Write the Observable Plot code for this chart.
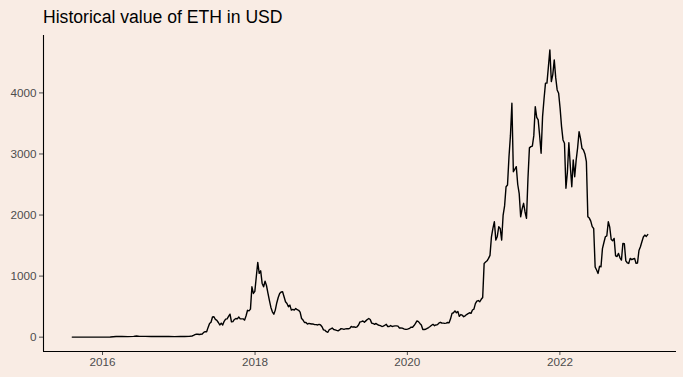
<!DOCTYPE html>
<html>
<head>
<meta charset="utf-8">
<script src="https://cdn.jsdelivr.net/npm/d3@7"></script>
<script src="https://cdn.jsdelivr.net/npm/@observablehq/plot@0.6"></script>
<style>
  html, body { margin: 0; padding: 0; background: #F9ECE4; }
  body { width: 683px; height: 377px; overflow: hidden; font-family: "Liberation Sans", Arial, sans-serif; }
  #title { box-sizing: border-box; height: 30px; padding-top: 9px; padding-left: 43px; font-size: 17.6px; line-height: 17.6px; color: #000; }
</style>
</head>
<body>
<div id="title">Historical value of ETH in USD</div>
<div id="chart"></div>
<script>
const titleText = "Historical value of ETH in USD";
const xTickYears = [2016, 2018, 2020, 2022];
const yTicks = [0, 1000, 2000, 3000, 4000];

const dates = [
"2015-08-09","2015-08-23","2015-09-20","2015-10-18","2015-11-15","2015-12-13",
"2016-01-10","2016-02-07","2016-03-06","2016-04-03","2016-05-01","2016-05-29","2016-06-12","2016-06-26","2016-07-24","2016-08-21","2016-09-18","2016-10-16","2016-11-13","2016-12-11",
"2017-01-08","2017-01-29","2017-02-19","2017-03-05","2017-03-12","2017-03-19","2017-03-26","2017-04-02","2017-04-09","2017-04-16","2017-04-23","2017-04-30",
"2017-05-07","2017-05-14","2017-05-21","2017-05-28","2017-06-04","2017-06-11","2017-06-18","2017-06-25","2017-07-02","2017-07-09","2017-07-16","2017-07-23","2017-07-30",
"2017-08-06","2017-08-13","2017-08-20","2017-08-27","2017-09-03","2017-09-10","2017-09-17","2017-09-24","2017-10-01","2017-10-08","2017-10-15","2017-10-22","2017-10-29",
"2017-11-05","2017-11-12","2017-11-19","2017-11-26","2017-12-03","2017-12-10","2017-12-17","2017-12-24","2017-12-31",
"2018-01-07","2018-01-14","2018-01-21","2018-01-28","2018-02-04","2018-02-11","2018-02-18","2018-02-25","2018-03-04","2018-03-11","2018-03-18","2018-03-25",
"2018-04-01","2018-04-08","2018-04-15","2018-04-22","2018-04-29","2018-05-06","2018-05-13","2018-05-20","2018-05-27","2018-06-03","2018-06-10","2018-06-17","2018-06-24",
"2018-07-01","2018-07-08","2018-07-15","2018-07-22","2018-07-29","2018-08-05","2018-08-12","2018-08-19","2018-08-26","2018-09-02","2018-09-09","2018-09-16","2018-09-23","2018-09-30",
"2018-10-07","2018-10-14","2018-10-21","2018-10-28","2018-11-04","2018-11-11","2018-11-18","2018-11-25","2018-12-02","2018-12-09","2018-12-16","2018-12-23","2018-12-30",
"2019-01-06","2019-01-13","2019-01-20","2019-01-27","2019-02-03","2019-02-10","2019-02-17","2019-02-24","2019-03-03","2019-03-10","2019-03-17","2019-03-24","2019-03-31",
"2019-04-07","2019-04-14","2019-04-21","2019-04-28","2019-05-05","2019-05-12","2019-05-19","2019-05-26","2019-06-02","2019-06-09","2019-06-16","2019-06-23","2019-06-30",
"2019-07-07","2019-07-14","2019-07-21","2019-07-28","2019-08-04","2019-08-11","2019-08-18","2019-08-25","2019-09-01","2019-09-08","2019-09-15","2019-09-22","2019-09-29",
"2019-10-06","2019-10-13","2019-10-20","2019-10-27","2019-11-03","2019-11-10","2019-11-17","2019-11-24","2019-12-01","2019-12-08","2019-12-15","2019-12-22","2019-12-29",
"2020-01-05","2020-01-12","2020-01-19","2020-01-26","2020-02-02","2020-02-09","2020-02-16","2020-02-23","2020-03-01","2020-03-08","2020-03-15","2020-03-22","2020-03-29",
"2020-04-05","2020-04-12","2020-04-19","2020-04-26","2020-05-03","2020-05-10","2020-05-17","2020-05-24","2020-05-31","2020-06-07","2020-06-14","2020-06-21","2020-06-28",
"2020-07-05","2020-07-12","2020-07-19","2020-07-26","2020-08-02","2020-08-09","2020-08-16","2020-08-23","2020-08-30","2020-09-06","2020-09-13","2020-09-20","2020-09-27",
"2020-10-04","2020-10-11","2020-10-18","2020-10-25","2020-11-01","2020-11-08","2020-11-15","2020-11-22","2020-11-29","2020-12-06","2020-12-13","2020-12-20","2020-12-27",
"2021-01-03","2021-01-10","2021-01-17","2021-01-24","2021-01-31","2021-02-07","2021-02-14","2021-02-21","2021-02-28","2021-03-07","2021-03-14","2021-03-21","2021-03-28",
"2021-04-04","2021-04-11","2021-04-18","2021-04-25","2021-05-02","2021-05-09","2021-05-16","2021-05-23","2021-05-30","2021-06-06","2021-06-13","2021-06-20","2021-06-27",
"2021-07-04","2021-07-11","2021-07-18","2021-07-25","2021-08-01","2021-08-08","2021-08-15","2021-08-22","2021-08-29","2021-09-05","2021-09-12","2021-09-19","2021-09-26",
"2021-10-03","2021-10-10","2021-10-17","2021-10-24","2021-10-31","2021-11-07","2021-11-14","2021-11-21","2021-11-28","2021-12-05","2021-12-12","2021-12-19","2021-12-26",
"2022-01-02","2022-01-09","2022-01-16","2022-01-23","2022-01-30","2022-02-06","2022-02-13","2022-02-20","2022-02-27","2022-03-06","2022-03-13","2022-03-20","2022-03-27",
"2022-04-03","2022-04-10","2022-04-17","2022-04-24","2022-05-01","2022-05-08","2022-05-15","2022-05-22","2022-05-29","2022-06-05","2022-06-12","2022-06-19","2022-06-26",
"2022-07-03","2022-07-10","2022-07-17","2022-07-24","2022-07-31","2022-08-07","2022-08-14","2022-08-21","2022-08-28","2022-09-04","2022-09-11","2022-09-18","2022-09-25",
"2022-10-02","2022-10-09","2022-10-16","2022-10-23","2022-10-30","2022-11-06","2022-11-13","2022-11-20","2022-11-27","2022-12-04","2022-12-11","2022-12-18","2022-12-25",
"2023-01-01","2023-01-08","2023-01-15","2023-01-22","2023-01-29","2023-02-05","2023-02-12","2023-02-19","2023-02-26"
];

const prices = [
1.2,1.3,0.9,0.5,0.9,0.9,
1.0,2.5,10,11,8.8,12.5,18,13,12.5,11,13,12,10,8.2,
9.8,10.6,12.5,19,28,40,50,48,43,48,52,79,
90,89,160,225,245,330,335,290,275,240,200,230,200,
260,295,300,340,377,250,255,290,306,300,330,300,300,
300,279,350,440,431,459,825,716,750,
989,1224,1044,1087,880,825,918,842,716,600,487,415,
377,443,560,650,716,740,743,661,579,552,497,525,443,
454,443,470,450,440,410,306,280,240,240,215,225,220,215,
215,205,205,200,210,200,170,120,115,90,80,125,135,
150,126,120,110,103,118,140,135,128,135,140,137,145,
175,165,170,160,170,200,250,255,265,245,267,290,306,
290,230,224,210,225,205,195,190,175,180,195,210,175,
175,190,175,180,185,185,180,150,150,148,135,130,128,
135,145,165,162,190,225,267,255,225,200,125,126,130,
145,158,175,195,210,188,200,205,230,244,232,230,226,
230,240,235,300,390,400,430,400,420,340,370,360,335,
350,370,385,400,390,445,460,550,590,600,580,620,650,
1208,1230,1250,1290,1340,1644,1780,1890,1590,1650,1808,1780,1590,
2000,2150,2464,2492,2950,3300,3831,2710,2750,2792,2500,2350,1972,
2100,2192,2050,1946,2600,3100,3120,3130,3300,3775,3600,3557,3300,
3011,3612,3900,4160,4160,4431,4705,4186,4300,4541,4250,4049,3995,
3750,3448,3230,3175,2438,2700,3185,2800,2464,2902,2628,2900,3100,
3366,3250,3093,3066,3000,2874,1972,1950,1900,1810,1780,1150,1100,
1044,1160,1153,1450,1550,1644,1660,1890,1800,1600,1580,1617,1330,
1320,1372,1300,1262,1536,1530,1250,1218,1208,1290,1270,1280,1290,
1210,1215,1420,1480,1562,1640,1672,1650,1680
];

const data = dates.map((d, i) => ({date: new Date(d + "T00:00:00Z"), price: prices[i]}));

// ggplot-style 5% expansion of the data range
const [t0, t1] = d3.extent(data, d => +d.date);
const [v0, v1] = d3.extent(data, d => d.price);
const tPad = (t1 - t0) * 0.05, vPad = (v1 - v0) * 0.05;
const xDomain = [new Date(t0 - tPad), new Date(t1 + tPad)];
const yDomain = [v0 - vPad, v1 + vPad];
const xTicks = xTickYears.map(y => new Date(Date.UTC(y, 0, 1)));

const chart = Plot.plot({
  width: 683,
  height: 347,
  marginTop: 5,
  marginBottom: 26,
  marginLeft: 43,
  marginRight: 7,
  style: {background: "transparent", fontFamily: "'Liberation Sans', Arial, sans-serif", fontSize: "11.7px", color: "#4D4D4D", overflow: "visible"},
  x: {type: "utc", domain: xDomain, ticks: xTicks, tickFormat: d => String(d.getUTCFullYear()), tickSize: 4, tickPadding: 2, label: null},
  y: {domain: yDomain, ticks: yTicks, tickFormat: d => String(d), tickSize: 4, tickPadding: 3, label: null},
  marks: [
    Plot.ruleX([xDomain[0]], {stroke: "#000", strokeWidth: 1.1}),
    Plot.ruleY([yDomain[0]], {stroke: "#000", strokeWidth: 1.1}),
    Plot.lineY(data, {x: "date", y: "price", stroke: "#000", strokeWidth: 1.4})
  ]
});
document.getElementById("chart").appendChild(chart);
</script>
</body>
</html>
